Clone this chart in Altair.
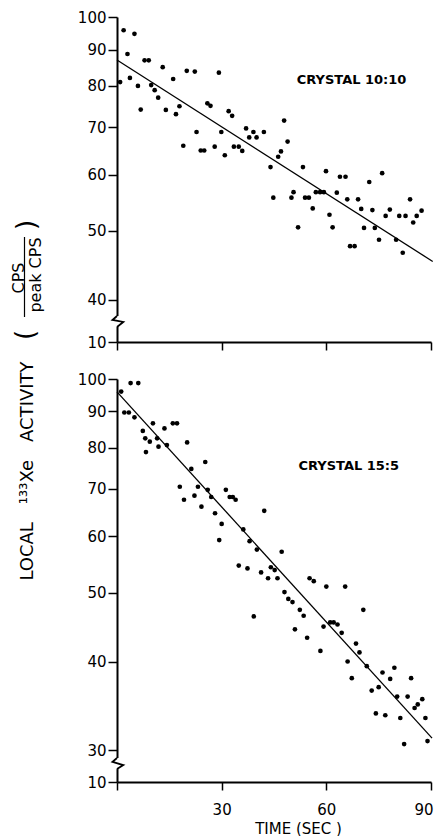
import altair as alt
import pandas as pd

FONT = "DejaVu Sans"

# ---------------- data ----------------
# upper panel : CRYSTAL 10:10
top_t = [0.9, 1.9, 3.0, 3.7, 5.0, 6.0, 6.8, 7.9, 9.1, 9.8,
         10.8, 11.8, 13.1, 14.0, 16.1, 16.9, 17.9, 19.0, 20.0, 22.3,
         22.8, 24.0, 25.0, 25.9, 26.8, 28.0, 29.2, 29.9, 30.9, 32.0,
         33.0, 33.5, 34.9, 35.9, 37.0, 37.9, 39.1, 40.0, 42.1, 44.0,
         44.8, 46.2, 47.0, 47.9, 48.9, 50.0, 50.6, 51.9, 53.3, 53.9,
         55.0, 56.1, 57.0, 58.2, 59.3, 59.9, 60.9, 61.8, 63.0, 63.9,
         65.5, 66.0, 66.8, 68.1, 69.1, 70.0, 70.8, 72.3, 73.2, 73.9,
         75.1, 76.0, 77.0, 78.2, 80.0, 80.9, 81.9, 82.7, 84.0, 84.9,
         85.9, 87.3]
top_v = [81.0, 95.8, 88.7, 82.1, 94.7, 80.0, 74.1, 86.9, 86.9, 80.2,
         78.9, 77.0, 85.0, 74.0, 81.8, 73.0, 74.9, 65.9, 84.0, 83.8,
         68.9, 64.9, 64.9, 75.6, 75.0, 65.7, 83.5, 68.9, 63.9, 73.7,
         72.6, 65.7, 65.7, 64.8, 69.7, 67.7, 68.9, 67.7, 68.9, 61.5,
         55.7, 63.6, 64.7, 71.5, 66.8, 55.7, 56.7, 50.6, 61.5, 55.7,
         55.7, 53.8, 56.7, 56.7, 56.7, 60.7, 52.7, 50.6, 56.6, 59.6,
         59.6, 55.4, 47.6, 47.6, 55.4, 53.7, 50.5, 58.6, 53.5, 50.5,
         48.6, 60.3, 52.5, 53.6, 48.6, 52.5, 46.6, 52.5, 55.4, 51.4,
         52.5, 53.4]

# lower panel : CRYSTAL 15:5
bot_t = [1.2, 2.1, 3.4, 3.9, 6.1, 5.0, 7.4, 8.1, 8.3, 9.4,
         10.3, 11.5, 11.9, 13.6, 14.3, 16.0, 17.2, 18.0, 19.2, 20.1,
         21.3, 22.2, 23.2, 24.2, 25.3, 26.0, 27.0, 28.1, 29.3, 30.0,
         31.2, 32.3, 33.2, 34.0, 34.9, 36.2, 37.4, 38.0, 39.2, 40.1,
         41.3, 42.2, 43.3, 44.1, 45.2, 46.0, 47.2, 48.0, 49.1, 50.3,
         51.0, 52.4, 53.5, 54.5, 55.2, 56.4, 58.3, 59.2, 60.0, 61.1,
         62.1, 63.2, 64.4, 65.4, 66.1, 67.3, 68.5, 69.5, 70.6, 71.6,
         73.0, 74.2, 75.0, 76.1, 76.9, 78.3, 79.5, 80.3, 81.2, 82.3,
         83.3, 84.3, 85.3, 86.2, 87.5, 88.4, 89.0]
bot_v = [96.0, 89.7, 89.7, 98.7, 98.7, 88.3, 84.5, 82.5, 78.9, 81.6,
         86.6, 82.5, 80.3, 85.2, 80.7, 86.6, 86.6, 70.5, 67.6, 81.4,
         74.7, 68.5, 70.5, 66.1, 76.4, 69.8, 68.2, 64.7, 59.3, 62.5,
         69.8, 68.2, 68.2, 67.6, 54.6, 61.4, 54.1, 59.1, 46.3, 57.5,
         53.4, 65.2, 52.4, 54.3, 53.8, 52.4, 57.1, 50.1, 49.0, 48.5,
         44.4, 47.3, 46.4, 43.2, 52.4, 51.9, 41.4, 44.8, 51.0, 45.4,
         45.4, 45.1, 43.9, 51.0, 40.0, 37.9, 42.4, 41.2, 47.3, 39.4,
         36.4, 33.8, 36.8, 38.6, 33.6, 37.8, 39.2, 35.7, 33.3, 30.6,
         35.7, 37.9, 34.4, 34.8, 35.4, 33.3, 30.9]

# fitted lines (end points)
top_fit_t = [0, 90.5]
top_fit_v = [87.0, 45.3]
bot_fit_t = [0, 90.3]
bot_fit_v = [95.9, 31.2]

# axes
x_ticks = [0, 30, 60, 90]
top_y_ticks = [40, 50, 60, 70, 80, 90, 100]
bot_y_ticks = [30, 40, 50, 60, 70, 80, 90, 100]
top_floor = 34.9      # axis value sitting at the broken-axis "10"
bot_floor = 27.06
floor_label = "10"

# axis-break squiggle (decoration)
brk_t = [0, -1.3, 1.8, 0]
top_brk_v = [37.97, 37.48, 37.24, 36.64]
bot_brk_v = [29.25, 28.88, 28.59, 28.22]

top_name = "CRYSTAL 10:10"
bot_name = "CRYSTAL 15:5"
top_name_pos = (51.5, 81.6)
bot_name_pos = (52.0, 75.4)
x_title = "TIME (SEC )"
y_title = "LOCAL\u2003¹³³Xe\u2003ACTIVITY"
frac_num = "CPS"
frac_den = "peak CPS"

W = 314


def one(s):
    return pd.DataFrame({"s": [s]})


def panel(t, v, fit_t, fit_v, floor, ticks, name, name_pos, brk_v, height, bottom):
    xs = alt.Scale(domain=[0, 90], nice=False, zero=False)
    ys = alt.Scale(type="log", domain=[floor, 100], nice=False)
    if bottom:
        xaxis = alt.Axis(values=x_ticks, title=x_title,
                         labelExpr="datum.value == 0 ? '' : datum.label",
                         tickSize=8, labelPadding=12,
                         labelFlush=True, labelFlushOffset=2,
                         titleX=181, titleY=46, titleBaseline="middle")
    else:
        xaxis = alt.Axis(values=x_ticks, title=None, labels=False, tickSize=8)
    yaxis = alt.Axis(values=[floor] + ticks, title=None,
                     labelExpr=f"datum.value < {floor * 1.01} ? '{floor_label}' : format(datum.value, 'd')")

    X = alt.X("t:Q", scale=xs, axis=xaxis)
    Y = alt.Y("v:Q", scale=ys, axis=yaxis)

    df = pd.DataFrame({"t": t, "v": v})
    pts = alt.Chart(df).mark_circle(size=22, color="black", opacity=1).encode(x=X, y=Y)
    fit = alt.Chart(pd.DataFrame({"t": fit_t, "v": fit_v})).mark_line(
        color="black", strokeWidth=1.3).encode(x=X, y=Y)
    lab = alt.Chart(pd.DataFrame({"t": [name_pos[0]], "v": [name_pos[1]], "s": [name]})).mark_text(
        align="left", baseline="middle", font=FONT, fontSize=13, fontWeight="bold", color="black").encode(
        x=X, y=Y, text="s:N")
    gap = alt.Chart(pd.DataFrame({"t": [0], "v": [brk_v[0]], "v2": [brk_v[-1]]})).mark_rule(
        color="white", strokeWidth=5).encode(x=X, y=Y, y2="v2:Q")
    zig = alt.Chart(pd.DataFrame({"t": brk_t, "v": brk_v, "i": list(range(len(brk_t)))})).mark_line(
        color="black", strokeWidth=1.8).encode(x=X, y=Y, order="i:Q")
    layers = [pts, fit, lab, gap, zig]
    if not bottom:
        txt = dict(font=FONT, fontSize=16, angle=270, align="center", baseline="middle", color="black")
        par = dict(font=FONT, fontSize=26, angle=270, align="center", baseline="middle", color="black")
        layers += [
            alt.Chart(one(frac_num)).mark_text(**txt).encode(x=alt.value(-98.5), y=alt.value(261), text="s:N"),
            alt.Chart(one(frac_den)).mark_text(**txt).encode(x=alt.value(-81), y=alt.value(258), text="s:N"),
            alt.Chart(one("bar")).mark_rule(color="black", strokeWidth=1.2).encode(
                x=alt.value(-92.5), y=alt.value(220), y2=alt.value(300)),
            alt.Chart(one(")")).mark_text(**par).encode(x=alt.value(-90), y=alt.value(208), text="s:N"),
            alt.Chart(one("(")).mark_text(**par).encode(x=alt.value(-91.5), y=alt.value(318), text="s:N"),
        ]
    else:
        layers += [
            alt.Chart(one(y_title)).mark_text(font=FONT, fontSize=18, angle=270, align="center",
                                              baseline="middle", color="black").encode(
                x=alt.value(-89), y=alt.value(92), text="s:N"),
        ]
    return alt.layer(*layers).properties(width=W, height=height)


top = panel(top_t, top_v, top_fit_t, top_fit_v, top_floor, top_y_ticks,
            top_name, top_name_pos, top_brk_v, 325, False)
bot = panel(bot_t, bot_v, bot_fit_t, bot_fit_v, bot_floor, bot_y_ticks,
            bot_name, bot_name_pos, bot_brk_v, 403, True)

chart = alt.vconcat(top, bot, spacing=37, bounds="flush").properties(
    padding={"left": 2, "top": 2, "right": 0, "bottom": 0},
    background="white",
).configure_view(stroke=None).configure_axis(
    labelFont=FONT, labelFontSize=15, labelColor="black",
    titleFont=FONT, titleFontSize=15, titleFontWeight="normal", titleColor="black",
    domainColor="black", domainWidth=2, tickColor="black", tickWidth=1.5,
    tickSize=9, labelPadding=2, grid=False, labelFlush=False, labelOverlap=False,
)

chart.save("out.html", embed_options={"renderer": "svg", "actions": False})
